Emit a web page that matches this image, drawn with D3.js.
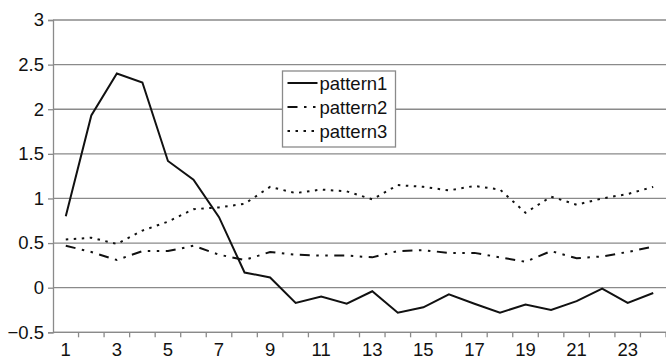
<!DOCTYPE html>
<html>
<head>
<meta charset="utf-8">
<script src="https://cdn.jsdelivr.net/npm/d3@7"></script>
<style>
  body { margin: 0; background: #fff; }
  svg text { font-family: "Liberation Sans", Arial, sans-serif; fill: #111; }
</style>
</head>
<body>
<svg id="chart" width="666" height="361"></svg>
<script>
const categories = d3.range(1, 25)
const yTicks = [-0.5, 0, 0.5, 1, 1.5, 2, 2.5, 3]
const xTickLabels = [1, 3, 5, 7, 9, 11, 13, 15, 17, 19, 21, 23]

const pattern1 = [0.8, 1.93, 2.4, 2.3, 1.42, 1.21, 0.79, 0.17, 0.115, -0.17, -0.1, -0.18,
  -0.04, -0.28, -0.22, -0.075, -0.18, -0.28, -0.19, -0.25, -0.15, -0.01, -0.17, -0.06]
const pattern2 = [0.47, 0.4, 0.31, 0.41, 0.41, 0.47, 0.37, 0.31, 0.4, 0.37, 0.36, 0.36,
  0.34, 0.41, 0.42, 0.39, 0.39, 0.34, 0.29, 0.41, 0.33, 0.35, 0.4, 0.46]
const pattern3 = [0.54, 0.56, 0.49, 0.64, 0.74, 0.88, 0.9, 0.94, 1.13, 1.06, 1.1, 1.08,
  0.99, 1.15, 1.13, 1.09, 1.14, 1.1, 0.84, 1.02, 0.93, 1.0, 1.05, 1.13]

const series = [
  { name: "pattern1", values: pattern1, dash: null },
  { name: "pattern2", values: pattern2, dash: "10,6.5,2.5,6.5,2.5,6.5" },
  { name: "pattern3", values: pattern3, dash: "2.5,5.5" }
]

const svg = d3.select("#chart")
const plotLeft = 53, plotRight = 666, plotTop = 20, plotBottom = 332.3
const fontSize = 18.5

const x = d3.scaleBand().domain(categories).range([plotLeft, plotRight])
const y = d3.scaleLinear().domain([-0.5, 3]).range([plotBottom, plotTop])
const gridColor = "#8a8a8a"

// horizontal gridlines
svg.append("g")
  .selectAll("line")
  .data(yTicks)
  .enter().append("line")
    .attr("x1", plotLeft).attr("x2", plotRight)
    .attr("y1", d => y(d)).attr("y2", d => y(d))
    .attr("stroke", gridColor)
    .attr("stroke-width", 1.3)

// y axis
const yAxis = svg.append("g")
  .attr("transform", `translate(${plotLeft},0)`)
  .call(d3.axisLeft(y).tickValues(yTicks).tickSize(5).tickPadding(4).tickFormat(d3.format("")))
yAxis.select(".domain").attr("stroke", gridColor).attr("stroke-width", 1.3)
yAxis.selectAll(".tick line").attr("stroke", gridColor).attr("stroke-width", 1.3)
yAxis.selectAll("text").attr("font-size", fontSize).attr("fill", "#111")
  .style("font-family", "'Liberation Sans', Arial, sans-serif")

// x axis: ticks at band boundaries, labels at odd categories
const xAxisG = svg.append("g").attr("transform", `translate(0,${plotBottom})`)
xAxisG.append("line")
  .attr("x1", plotLeft).attr("x2", plotRight)
  .attr("stroke", gridColor).attr("stroke-width", 1.3)
xAxisG.selectAll("line.tk")
  .data(categories)
  .enter().append("line")
    .attr("class", "tk")
    .attr("x1", d => x(d) + x.bandwidth()).attr("x2", d => x(d) + x.bandwidth())
    .attr("y1", 0).attr("y2", 5)
    .attr("stroke", gridColor).attr("stroke-width", 1.3)
xAxisG.selectAll("text")
  .data(xTickLabels)
  .enter().append("text")
    .attr("x", d => x(d) + x.bandwidth() / 2)
    .attr("y", 24)
    .attr("text-anchor", "middle")
    .attr("font-size", fontSize)
    .text(d => d)

// lines
const line = d3.line()
  .x((d, i) => x(categories[i]) + x.bandwidth() / 2)
  .y(d => y(d))

svg.append("g")
  .selectAll("path")
  .data(series)
  .enter().append("path")
    .attr("d", d => line(d.values))
    .attr("fill", "none")
    .attr("stroke", "#111")
    .attr("stroke-width", 2)
    .attr("stroke-dasharray", d => d.dash)

// legend
const legend = svg.append("g").attr("transform", "translate(282.5,71)")
legend.append("rect")
  .attr("width", 113).attr("height", 76)
  .attr("fill", "#fff")
  .attr("stroke", gridColor).attr("stroke-width", 1.3)
const item = legend.selectAll("g.item")
  .data(series)
  .enter().append("g")
    .attr("class", "item")
    .attr("transform", (d, i) => `translate(0,${12 + i * 24})`)
item.append("line")
  .attr("x1", 5).attr("x2", 35)
  .attr("stroke", "#111").attr("stroke-width", 2)
  .attr("stroke-dasharray", d => d.dash)
item.append("text")
  .attr("x", 37).attr("y", 6.5)
  .attr("font-size", fontSize)
  .text(d => d.name)
</script>
</body>
</html>
